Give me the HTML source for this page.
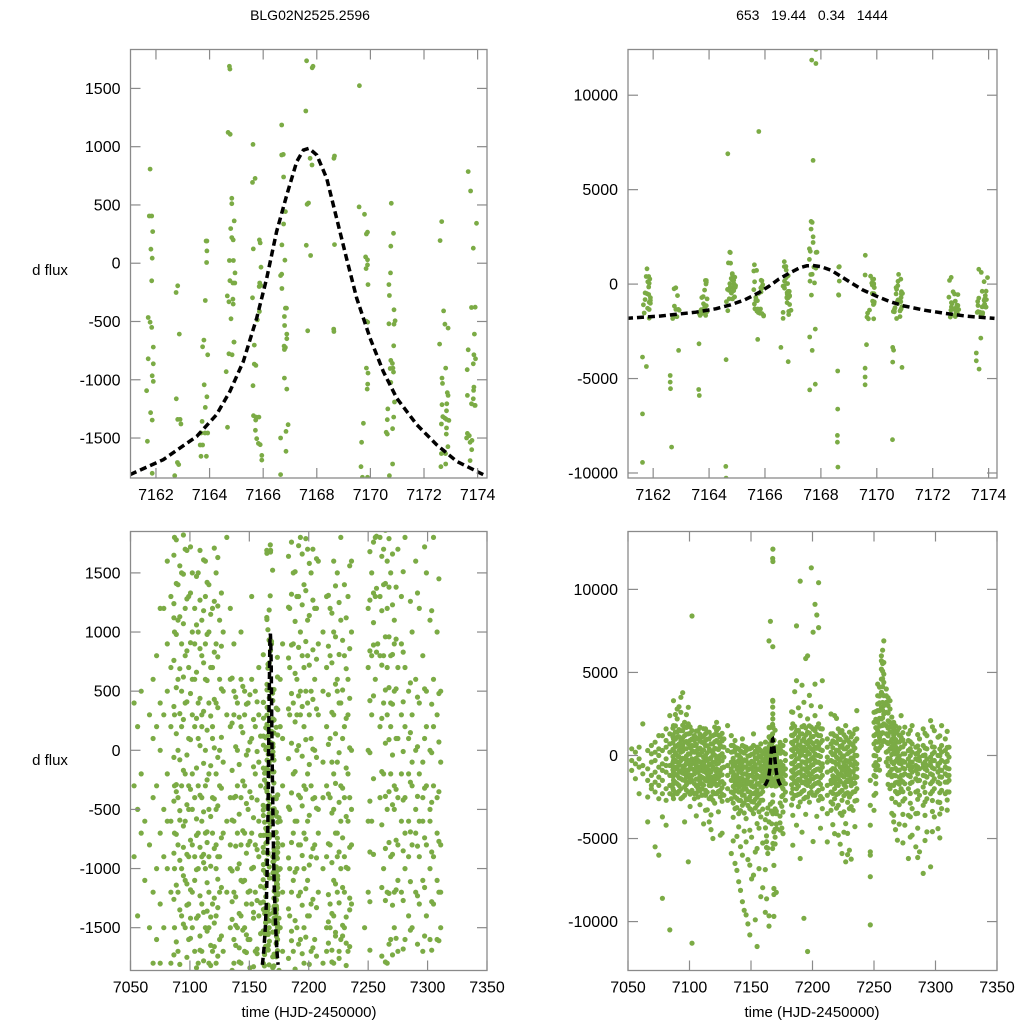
<!DOCTYPE html>
<html><head><meta charset="utf-8">
<style>
html,body{margin:0;padding:0;background:#fff;width:1024px;height:1024px;overflow:hidden;}
svg{display:block;font-family:"Liberation Sans",Arial,sans-serif;}
</style></head>
<body>
<svg id="fig" width="1024" height="1024" viewBox="0 0 1024 1024" xmlns="http://www.w3.org/2000/svg">
<text x="310" y="20" font-size="14" text-anchor="middle">BLG02N2525.2596</text>
<text x="812" y="20" font-size="14" text-anchor="middle" xml:space="preserve" style="white-space:pre">653   19.44   0.34   1444</text>
<text x="50" y="275" font-size="15" text-anchor="middle">d flux</text>
<text x="50" y="765" font-size="15" text-anchor="middle">d flux</text>
<text x="309" y="1017" font-size="15" text-anchor="middle">time (HJD-2450000)</text>
<text x="812" y="1017" font-size="15" text-anchor="middle">time (HJD-2450000)</text>
</svg>
<script>
// ---- zoomed-in data (around the event) ----
const zoomT = [
7161.78,7161.75,7161.84,7161.88,7161.81,7161.86,7161.84,7161.71,7161.78,7161.84,7161.9,7161.71,7161.9,7161.86,7161.9,7161.65,7161.8,7161.86,7161.68,7161.86,
7162.81,7162.75,7162.87,7162.76,7162.81,7162.9,7162.93,7162.8,7162.85,7162.7,
7163.87,7163.9,7163.9,7163.89,7163.84,7163.79,7163.74,7163.93,7163.8,7163.9,7163.84,7163.72,7163.68,7163.83,7163.93,7163.65,7163.74,7163.68,7163.88,
7164.76,7164.69,7164.77,7164.83,7164.83,7164.92,7164.79,7164.83,7164.88,7164.74,7164.89,7164.95,7164.76,7164.87,7164.94,7164.66,7164.87,7164.72,7164.88,7164.8,7164.91,7164.91,7164.72,7164.84,7164.62,7164.67,
7165.62,7165.7,7165.6,7165.86,7165.89,7165.63,7165.92,7165.87,7165.91,7165.85,7165.6,7165.86,7165.78,7165.67,7165.67,7165.73,7165.62,7165.64,7165.74,7165.84,7165.72,7165.71,7165.76,7165.82,7165.89,7165.95,7165.95,
7166.69,7166.69,7166.75,7166.76,7166.83,7166.76,7166.7,7166.81,7166.69,7166.65,7166.7,7166.83,7166.87,7166.79,7166.8,7166.88,7166.88,7166.78,7166.83,7166.79,7166.79,7166.88,7166.93,7166.85,7166.65,7166.85,7166.65,
7167.62,7167.83,7167.59,7167.75,7167.82,7167.69,7167.64,7167.61,7167.77,7167.66,
7168.64,7168.66,7168.64,
7169.59,7169.58,7169.78,7169.89,7169.85,7169.82,7169.89,7169.89,7169.84,7169.91,7169.84,7169.9,7169.85,7169.91,7169.9,7169.88,7169.74,7169.67,7169.65,7169.7,7169.89,
7170.78,7170.86,7170.76,7170.75,7170.69,7170.71,7170.69,7170.88,7170.92,7170.88,7170.87,7170.76,7170.82,7170.84,7170.74,7170.86,7170.76,7170.9,7170.87,7170.63,7170.83,7170.59,7170.63,7170.83,7170.71,7170.65,
7172.66,7172.6,7172.73,7172.78,7172.9,7172.58,7172.81,7172.67,7172.69,7172.87,7172.9,7172.67,7172.85,7172.84,7172.7,7172.78,7172.93,7172.84,7172.65,7172.84,7172.83,7172.89,7172.65,7172.8,7172.63,7172.81,
7173.65,7173.74,7173.96,7173.84,7173.77,7173.91,7173.88,7173.65,7173.86,7173.92,7173.84,7173.61,7173.86,7173.85,7173.84,7173.62,7173.77,7173.89,7173.91,7173.62,7173.69,7173.59,7173.79,7173.72,7173.78,7173.72,
7167.82,7167.67,7167.82,7165.78,7164.67,7167.72,7167.65,7167.69,7167.65,7167.72,7167.72,7167.59,7167.86,7164.74,
7161.62,7161.76,7161.62,7161.62,7162.61,7162.61,7162.62,7162.66,7162.91,7163.63,7163.65,7164.61,7164.6,7164.61,7163.64,7165.74,7166.57,7166.83,7167.6,7167.8,7167.6,7167.8,7167.69,7168.6,7168.6,7168.59,7168.59,7168.61,7169.58,7169.58,7169.58,7169.63,7170.57,7170.56,7170.9,7170.57,7170.6,7173.56,7173.56,7173.66,7173.72,7168.63,7168.66
];
const zoomF = [
808,405,405,271,120,43,-151,-466,-506,-551,-720,-820,-863,-966,-1014,-1094,-1283,-1346,-1528,-1803,
-194,-251,-608,-1163,-1340,-1340,-1380,-1710,-1728,-1823,
191,191,106,6,-320,-660,-717,-786,-1043,-1146,-1237,-1357,-1457,-1457,-1457,-1560,-1560,-1657,-1657,
1666,1123,1106,557,511,363,297,220,200,23,23,-83,-150,-170,-170,-280,-309,-331,-351,-477,-677,-677,-777,-786,-931,-1408,
1020,728,694,200,174,123,-34,-170,-190,-200,-297,-414,-486,-703,-866,-877,-1051,-1308,-1320,-1320,-1346,-1434,-1506,-1546,-1557,-1649,-1689,
1186,929,934,740,443,337,157,26,-94,-106,-217,-386,-386,-457,-534,-608,-648,-711,-723,-740,-986,-1080,-1386,-1443,-1500,-1614,-1814,
1737,1677,1306,900,843,517,506,154,66,-580,
900,160,-586,
1523,483,420,266,251,54,29,-14,-46,-183,-497,-506,-900,-943,-1037,-1080,-1374,-1537,-1746,-1837,-1837,
514,257,146,-83,-183,-277,-520,-400,-494,-523,-709,-834,-860,-900,-903,-934,-1023,-1191,-1320,-1343,-1420,-1451,-1466,-1723,-1823,-1250,
357,194,-409,-523,-557,-694,-900,-986,-1031,-1111,-1134,-1214,-1206,-1266,-1317,-1330,-1349,-1340,-1380,-1414,-1466,-1574,-1634,-1634,-1746,-1723,
786,620,343,129,-380,-377,-608,-743,-786,-820,-863,-914,-1063,-1091,-1163,-1134,-1206,-1220,-1220,-1460,-1480,-1500,-1520,-1537,-1600,-1694,
12425,11860,11680,8080,6900,6550,3320,3265,2910,2506,2200,1870,1690,1690,
-3865,-4360,-6870,-9440,-4840,-5190,-5540,-8630,-3510,-5580,-5900,-4000,-9650,-10270,-3160,-2930,-3350,-4110,-2800,-2380,-5600,-5300,-3510,-4600,-6620,-8010,-8370,-9690,-4450,-4920,-5330,-3210,-4130,-8240,-4410,-3350,-3500,-3650,-4060,-4500,-2860,-565,920
];
// ---- full-season data: one time per night, list of flux values ----
const nightT = [7053,7056,7059,7062,7066,7069,7072,7075,7078,7081,7084,7087,7090,7093,7096,7099,7102,7104,7107,7110,7113,7116,7119,7122,7125,7128,7131,7134,7137,7140,7143,7146,7149,7152,7155,7158,7176,7178,7184,7187,7190,7193,7196,7199,7202,7205,7208,7212,7215,7218,7221,7224,7227,7230,7233,7236,7247,7250,7253,7256,7258,7260,7263,7266,7269,7272,7275,7278,7281,7284,7287,7290,7293,7296,7299,7302,7305,7308,7311];
const nightF = [
[-300,400,-900],[-500,-1400,200],[500,-200,-2300,-700],[1900,-600,-1100],[-800,-1500,300,-2500,-4000],
[-400,-1200,600,-1800,-2000,100],[-1000,-300,800,-1600,-2200,-5500,200],[-1800,-700,400,-1300,-2600,-6000,0,1200],
[-1500,-500,1200,-2300,300,-900,-8600,-3700],[-2000,-1000,500,1600,-200,-2700,-4200,-600,900],
[-1200,200,1300,-600,-1800,-2300,700,-10500,2400],[-700,1800,-1500,300,-2100,1000,-300,-1000,3300,-2600],
[-400,1400,-1700,600,-1200,2200,-2300,0,1100,-800,2800],[200,-2000,900,-1000,1500,-300,-2600,2600,-1400,500,3500],
[-1100,1200,-600,400,-1900,1700,-200,-2400,800,-1500,2000,-4000],[-1600,700,-300,1300,-900,-2200,100,1900,-1300,-500,2900,-6400],
[-1500,-500,600,-1200,1000,-2100,-200,300,-800,1500,8400,-11300],[-900,200,-1700,900,-400,-2300,1200,-1100,600,-2600],
[-300,-1400,1000,-700,-2000,400,-2500,1500,-1000,100,-1800],[-2000,-600,800,-1300,200,-2400,-400,1100,-1700,300,-900],
[-1000,600,-2100,-300,1300,-1500,-700,0,-2400,900,1600,-3300],[-500,-1800,400,-1200,1000,-2600,-200,-900,1400,-1500,-4000],
[-1300,200,-700,-2200,1200,-400,700,-1700,-2700,100,-5000],[-200,-1000,900,-1800,-500,1500,-2300,400,-1400,-800,2000],
[-1600,-300,1100,-900,-2100,600,-1200,0,-2500,-4800],[-700,-1700,500,-2400,-100,1000],[-1200,300,-2000,-600,1800,-2700],
[-800,-1500,200,-2200,600,-400,-1000,-2600,-5900,1200],[-1800,-600,300,-2500,-1200,500,-3200,-1600,-400,-2100,-6500,900],
[-1000,-2200,0,-1500,-3500,400,-700,-2700,-1900,-300,-4300,-7600],[-2400,-800,200,-1400,-3000,-400,600,-1800,-2100,-1100,-6000,-8800,1000],
[-1500,-300,-2600,300,-1100,-3800,-700,-2000,500,-1700,-5200,-9600],[-500,-2200,-1200,0,-3200,-800,-1600,400,-2500,-4500,-6600,-10800],
[-1900,-700,100,-2800,-1300,600,-400,-2300,-1000,-3500,-7200,1300],[-1200,-2500,-200,500,-1700,-800,-3000,200,-2100,-4100,-5600,-11500],
[-600,-1400,-2300,300,-900,-2700,-100,-1900,700,-3700,-8500],[-1500,-600,-2400,200,-1000,-2000,-3400,-4700,600],
[-800,-2200,-300,900,-1700,-2700,-1200,100],[-1000,300,-2000,-500,1200,-1400,-2600,700,-3600,1900,-5400,2600],
[-1700,-200,900,-1100,-2400,400,-700,1500,-2000,-4200,4500,7800],[-600,-1500,600,-2300,0,1300,-1000,-2800,300,2400,-6200,10500],
[-1200,300,-400,-2100,1000,-1600,-800,1800,-2600,500,3200,-9800],[-300,-1800,700,-1000,-2500,200,1400,-700,-1500,2200,6000,-11800],
[-1400,-200,1100,-2200,-600,400,-1900,800,-1100,1700,3000,11300],[-900,500,-1700,-300,1500,-2400,100,-1300,2400,4300,9100],
[-1600,0,-800,1200,-2100,600,-400,-2700,1900,7700,10400],[-500,-2000,300,-1200,900,-700,-2600,1600,-3200,4500],
[-1000,-400,-1800,500,-2400,-100,1000,-3500,-5200],[-1500,200,-900,-2200,700,-300,-1700,1300,-2800,-3300,2500],
[-400,-1300,800,-2000,100,-800,-2600,1200,-1500,-4700,2400],[-1100,300,-1800,-500,1000,-2300,-200,-1400,-3000,1600,-4800],
[-700,-2100,500,-1200,-100,1500,-2700,-900,-3600,600,-5900],[-1600,-300,1100,-1000,-2300,400,-600,-1900,1800,-4100,-6400],
[-900,200,-1500,-2500,800,-400,-1200,1400,-3200,-5700],[-200,-1700,600,-1000,-2200,1300,-600,300,-3300],
[-1300,-500,1000,-2000,0,-800,1600,-2700,2700],[-4200,-5800,-7300,-10200,-3000,-1500,-6000],
[0,1200,-600,2000,700,-1200,2600,-2400,-3300],[1500,2700,800,3600,2000,300,4300,-600,3100],
[2200,3800,1300,5200,2900,600,4600,5700,1800,6000],[3000,4400,1900,5600,3600,900,6900,2500,4900],
[1800,3200,800,2600,4000,200,1300,3600,-400],[800,2000,-200,1400,2800,400,-1000,1700,-2000,3300],
[300,1200,-500,2000,-1200,700,-1800,1600,-3600,-4000],[-200,800,-900,1500,-1600,400,-2300,200,-5100],
[-500,500,-1200,1100,-300,-2000,2400,-1500,900],[-800,100,-400,-1700,700,-1100,-2600,1700,-4200],
[-600,300,-1200,-200,900,-2000,-3600,-6200,1300],[-400,-1000,200,-700,-1600,700,-3200,-4800,1800],
[-900,-200,500,-1400,-600,100,-2200,-3500,-5500],[-300,-800,300,-1500,-100,1000,-2400,-5800],
[-700,0,-1200,600,-500,-1900,-3000,1600,-7100],[-200,-900,400,-1300,-600,1200,-2600,-4600],
[-600,-100,-1100,800,-400,-1700,-2300,2100,-6700],[-300,-800,500,-1400,200,-2000,-3700,1500],
[-500,0,-1000,1100,-1600,-600,-2800,-4400],[-900,-300,600,-1300,-2100,200,-3200,1800],
[-400,300,-1100,-700,-1600,1000,-2300],[-800,-100,-1500,500,-2200,-1200]
];
// ---- additional nights (interleaved observations) ----
const nightT2 = [7086.5,7088.5,7091.5,7094.5,7097.5,7100.5,7105.5,7108.5,7111.5,7114.5,7117.5,7120.5,7123.5,7126.5,7135.5,7138.5,7141.5,7144.5,7147.5,7150.5,7153.5,7156.5,7159.5,7175,7183,7185.5,7188.5,7191.5,7194.5,7197.5,7200.5,7203.5,7206.5,7216.5,7219.5,7222.5,7225.5,7228.5,7231.5,7234.5,7251.5,7254.5,7257,7261.5,7264.5,7267.5,7270.5,7273.5,7279.5,7285.5,7291.5,7297.5,7303.5,7309.5];
const nightF2 = [
[-1730,-1260,-870,-430,-60,370,760,1240,1650,-1980,-2410,1120],
[-1620,-1140,-710,-290,140,530,980,1410,1780,-2230,2470,-350],
[-1810,-1350,-930,-510,-80,310,690,1130,1560,-2150,-590,2940],
[-1470,-1060,-640,-170,260,620,1070,1490,1820,-2520,-820,3780],
[-1750,-1310,-880,-460,-40,410,840,1280,1690,-2090,-1130,2460],
[-1590,-1180,-760,-330,90,480,910,1330,-2330,-1420,-3070,1720],
[-1840,-1420,-1010,-580,-150,270,660,1060,-2260,-720,1470,-3640],
[-1690,-1230,-820,-380,40,440,860,1270,-2140,-1570,-2960,1690],
[-1780,-1370,-950,-520,-110,330,740,1180,-2380,-880,1610,-4120],
[-1530,-1120,-690,-250,170,590,980,-2210,-1360,1420,-3270,-780],
[-1820,-1410,-980,-560,-130,290,700,1150,-2480,-1650,-3580,-4460],
[-1660,-1250,-830,-410,20,430,830,1260,-2290,-1460,1710,-2870],
[-1740,-1330,-900,-470,-60,360,790,1220,-2170,-1090,1630,-3390],
[-1570,-1160,-740,-320,110,520,-2330,-1940,880,-2760,1330,-4680],
[-1860,-1430,-1020,-590,-170,230,610,-2270,-2860,-1280,-3720,-5140],
[-1650,-1240,-810,-390,30,450,-2120,-2590,-3140,-1480,-4870,-6920],
[-1790,-1380,-960,-540,-120,280,-2210,-2710,-3320,-1670,-5490,-8120],
[-1520,-1110,-680,-260,150,540,-2390,-2850,-3460,-1930,-4560,-9320],
[-1710,-1300,-870,-450,-40,390,-2170,-2660,-3010,-1560,-6270,-10140],
[-1600,-1190,-770,-350,70,470,-2290,-2770,-3280,-1840,-4920,-7430],
[-1830,-1420,-990,-570,-140,260,-2230,-2640,-3170,-1370,-5810,-9890],
[-1680,-1270,-840,-420,-10,410,-2340,-2880,-3390,-1720,-4380,-6810],
[-1550,-1150,-720,-300,120,-2180,-2690,-3230,-1890,-5270,-7960,-1290],
[-1420,-1010,-570,-1860,-2470,-3060,-4370],
[-1760,-1340,-910,-480,-70,350,780,1210,1640,-2260,-2980,2630],
[-1610,-1200,-780,-360,60,480,890,1320,1760,-2410,-1530,3840],
[-1850,-1440,-1030,-600,-180,240,650,1090,1510,-2340,-3080,2870],
[-1640,-1230,-800,-380,40,460,870,1300,1730,-2180,-4620,4230],
[-1720,-1310,-890,-470,-50,370,800,1230,1660,-2520,-3540,5840],
[-1580,-1170,-750,-330,90,500,920,1350,1790,-2270,-2810,3620],
[-1810,-1400,-970,-550,-120,300,720,1140,1580,-2390,-5180,7420],
[-1670,-1260,-830,-410,10,430,850,1270,1700,-2210,-3660,8460],
[-1740,-1330,-910,-490,-60,350,770,1200,1620,-2460,-4380,2940],
[-1630,-1220,-790,-370,50,470,880,1310,-2280,-1450,-2920,-4160],
[-1790,-1380,-950,-530,-100,320,740,1160,-2350,-1690,-3170,2230],
[-1540,-1130,-700,-280,140,560,960,1390,-2190,-1570,-3480,-5340],
[-1700,-1290,-860,-440,-20,400,810,1250,-2420,-1760,-3390,-4620],
[-1570,-1160,-740,-320,100,510,930,-2240,-1480,-2820,-4690,-5970],
[-1820,-1410,-990,-560,-150,270,690,1120,-2310,-1630,-3080,-6240],
[-1660,-1250,-820,-400,20,440,860,-2170,-1350,-2740,-4280,1560],
[-1280,-860,-430,-20,420,840,1270,1680,2180,-1690,2640,-2280],
[460,890,1330,1760,2240,2710,3170,3580,4120,-240,-880,1080],
[1370,1810,2260,2740,3190,3660,4150,4620,5080,5540,830,6340],
[-630,-180,270,720,1180,1640,2090,2560,3010,-1160,-1740,3480],
[-1270,-830,-390,60,510,960,1410,1860,2310,-1790,-2590,-3480],
[-1640,-1210,-780,-350,90,530,960,1380,-2170,-2820,-4460,1790],
[-1730,-1310,-880,-460,-40,390,810,1230,-2230,-2960,-4130,1660],
[-1590,-1180,-760,-330,100,520,940,-2180,-2740,-3550,1380,-5260],
[-1680,-1270,-850,-420,-10,410,830,-2290,-2870,-3690,-4910,1510],
[-1520,-1110,-690,-270,150,570,-2130,-2640,-3480,-4370,1260,-6140],
[-1640,-1230,-810,-390,30,450,-2220,-2790,-3610,-5120,1330],
[-1570,-1160,-740,-320,100,520,-2160,-2710,-3370,-4580,1720],
[-1690,-1280,-860,-440,-20,390,-2240,-2830,-3520,-4960,1180],
[-1610,-1200,-770,-350,70,480,-2190,-2680,-3290,1450]
];
// ---- microlensing model curve ----
const modelT = [7161.03,7162.27,7163.52,7164.26,7164.76,7165.26,7165.76,7166.13,7166.5,7166.88,7167.25,7167.5,7167.71,7168.0,7168.37,7168.74,7169.11,7169.49,7169.99,7170.48,7170.98,7171.73,7172.47,7173.22,7174.21];
const modelF = [-1814,-1686,-1486,-1300,-1100,-843,-471,-129,271,586,871,971,986,929,729,386,43,-300,-643,-929,-1157,-1386,-1557,-1700,-1814];
// ---- tick labels ----
const ticksXZoom = [7162,7164,7166,7168,7170,7172,7174];
const ticksXFull = [7050,7100,7150,7200,7250,7300,7350];
const ticksYSmall = [-1500,-1000,-500,0,500,1000,1500];
const ticksYLarge = [-10000,-5000,0,5000,10000];

const NS='http://www.w3.org/2000/svg';
const svg=document.getElementById('fig');
function mk(tag,attrs,parent){const e=document.createElementNS(NS,tag);for(const k in attrs)e.setAttribute(k,attrs[k]);(parent||svg).appendChild(e);return e;}

// full dataset = season nights + extra nights + zoom data
const fullT=[],fullF=[];
nightT.forEach((t,i)=>{nightF[i].forEach(f=>{fullT.push(t);fullF.push(f);});});
nightT2.forEach((t,i)=>{nightF2[i].forEach(f=>{fullT.push(t);fullF.push(f);});});
zoomT.forEach((t,i)=>{fullT.push(t);fullF.push(zoomF[i]);});

function panel(id,box,xd,yd,xt,yt,T,F,r){
  const g=mk('g',{});
  
  
  const sx=v=>box.x0+(v-xd[0])/(xd[1]-xd[0])*(box.x1-box.x0);
  const sy=v=>box.y1-(v-yd[0])/(yd[1]-yd[0])*(box.y1-box.y0);
  const cp=mk('clipPath',{id:'clip-'+id},g);
  mk('rect',{x:box.x0,y:box.y0,width:box.x1-box.x0,height:box.y1-box.y0},cp);
  const pts=mk('g',{'clip-path':'url(#clip-'+id+')',fill:'#7bab45'},g);
  
  
  for(let i=0;i<T.length;i++){
    const c=mk('circle',{cx:sx(T[i]).toFixed(1),cy:sy(F[i]).toFixed(1),r:r},pts);
    
    
  }
  const d=modelT.map((t,i)=>(i?'L':'M')+sx(t).toFixed(1)+','+sy(modelF[i]).toFixed(1)).join(' ');
  const ml=mk('path',{d:d,fill:'none',stroke:'#000','stroke-width':3.5,'stroke-dasharray':'7,4','clip-path':'url(#clip-'+id+')'},g);
  
  
  const frame=mk('rect',{x:box.x0,y:box.y0,width:box.x1-box.x0,height:box.y1-box.y0,fill:'none',stroke:'#8a8a8a','stroke-width':1.3},g);
  
  
  xt.forEach(v=>{
    const x=sx(v);
    mk('line',{x1:x,x2:x,y1:box.y1,y2:box.y1-10,stroke:'#8a8a8a','stroke-width':1.2},g);
    mk('line',{x1:x,x2:x,y1:box.y0,y2:box.y0+10,stroke:'#8a8a8a','stroke-width':1.2},g);
    const t=mk('text',{x:x,y:box.y1+22,'font-size':16,'text-anchor':'middle'},g);
    t.textContent=v;
    
    
  });
  yt.forEach(v=>{
    const y=sy(v);
    mk('line',{x1:box.x0,x2:box.x0+10,y1:y,y2:y,stroke:'#8a8a8a','stroke-width':1.2},g);
    mk('line',{x1:box.x1,x2:box.x1-10,y1:y,y2:y,stroke:'#8a8a8a','stroke-width':1.2},g);
    const t=mk('text',{x:box.x0-10,y:y+5.5,'font-size':16,'text-anchor':'end'},g);
    t.textContent=v;
    
    
  });
}
panel('panel-zoom-small',{x0:130.5,x1:487,y0:49.5,y1:478},[7161.05,7174.35],[-1843,1834],ticksXZoom,ticksYSmall,zoomT,zoomF,2.4);
panel('panel-zoom-large',{x0:628,x1:997,y0:49.5,y1:478},[7161.1,7174.3],[-10265,12420],ticksXZoom,ticksYLarge,zoomT,zoomF,2.4);
panel('panel-full-small',{x0:130.5,x1:487,y0:531.5,y1:970.5},[7050,7350],[-1862,1850],ticksXFull,ticksYSmall,fullT,fullF,2.6);
panel('panel-full-large',{x0:628,x1:997,y0:531.5,y1:970.5},[7050,7350],[-12945,13485],ticksXFull,ticksYLarge,fullT,fullF,2.6);
</script>
</body></html>
